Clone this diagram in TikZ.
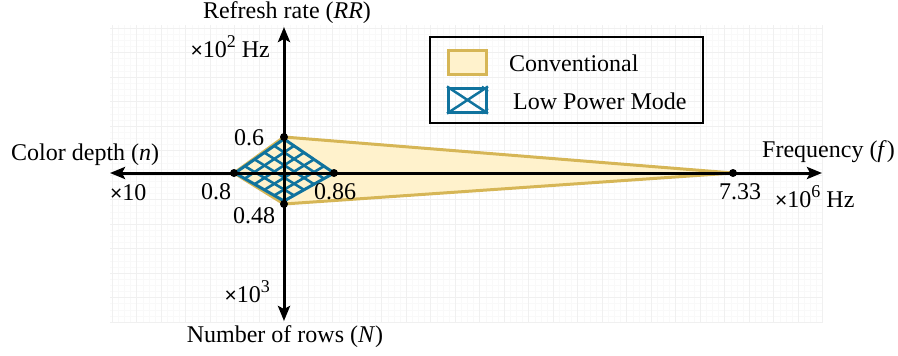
\documentclass[tikz,border=0pt]{standalone}
\usepackage{fontspec}
\setmainfont{Liberation Serif}
\newfontfamily\timesfont{Liberation Sans}
\usepackage{tikz}
\usetikzlibrary{arrows.meta}
\usetikzlibrary{calc}
\usetikzlibrary{backgrounds}
\definecolor{convfill}{HTML}{FFF2CC}
\definecolor{convline}{HTML}{D6B656}
\definecolor{lpmline}{HTML}{10739E}
\definecolor{gridmajor}{HTML}{F0F0F0}
\definecolor{gridminor}{HTML}{F9F9F9}
\newcommand\lblsize{\fontsize{24}{28}\selectfont}
\newcommand\tms{{\timesfont\fontsize{21}{24}\selectfont ×}}
\newcommand\sups[1]{\raisebox{0.42em}{\fontsize{18}{20}\selectfont #1}}

\begin{document}
\begin{tikzpicture}[x=1pt,y=-1pt,
        axis/.style={line width=3pt,-{Stealth[length=15pt,width=12pt,inset=3pt]}},
        dot/.style={circle,fill=black,inner sep=0pt,minimum size=8pt},
        lbl/.style={font=\lblsize,inner sep=0pt}]
        \useasboundingbox (0,0) rectangle (898,356);
        % grid
        \foreach \k in {0,...,116}
            \draw[gridminor,line width=0.5pt] ({822.7-\k*6.125},25) -- ({822.7-\k*6.125},322);
        \foreach \k in {0,...,48}
            \draw[gridminor,line width=0.5pt] (110,{322-\k*6.125}) -- (823,{322-\k*6.125});
        \foreach \k in {0,...,29}
            \draw[gridmajor,line width=0.6pt] ({822.7-\k*24.5},25) -- ({822.7-\k*24.5},322);
        \foreach \k in {0,...,12}
            \draw[gridmajor,line width=0.6pt] (110,{322-\k*24.5}) -- (823,{322-\k*24.5});

        \coordinate (o) at (284,173);
        \coordinate (xl) at (110,173);
        \coordinate (xr) at (822,173);
        \coordinate (yt) at (284,27);
        \coordinate (yb) at (284,321);

        \coordinate (rr) at (284,137);
        \coordinate (nr) at (284,204);
        \coordinate (cd) at (234,173);
        \coordinate (fq) at (733,173);

        % conventional
        \path[fill=convfill,draw=convline,line width=3pt,line join=round]
            (rr) -- (fq) -- (nr) -- (cd) -- cycle;

        % low power mode
        \coordinate (L) at (235,173);
        \coordinate (T) at (284,139);
        \coordinate (R) at (334,173);
        \coordinate (B) at (284,201);
        \foreach \t in {0.2,0.4,0.6,0.8} {
            \draw[lpmline,line width=2.6pt] ($(L)!\t!(B)$) -- ($(T)!\t!(R)$);
            \draw[lpmline,line width=2.6pt] ($(L)!\t!(T)$) -- ($(B)!\t!(R)$);
        }
        \draw[lpmline,line width=3pt,line join=round] (L) -- (T) -- (R) -- (B) -- cycle;

        % axes
        \draw[axis] (o) -- (xl);
        \draw[axis] (o) -- (xr);
        \draw[axis] (o) -- (yt);
        \draw[axis] (o) -- (yb);

        \node[dot] (p06) at (rr) {};
        \node[dot] (p048) at (nr) {};
        \node[dot] (p08) at (cd) {};
        \node[dot] (p086) at (R) {};
        \node[dot] (p733) at (fq) {};

        % labels
        \node[lbl] (rrlab) at (287,13) {Refresh rate (\textit{RR})};
        \node[lbl,anchor=east] (rrunit) at (270,47) {\tms10\sups{2} Hz};
        \node[lbl,anchor=west] (cdlab) at (11,155) {Color depth (\textit{n})};
        \node[lbl,anchor=west] (cdunit) at (110,193) {\tms10};
        \node[lbl,anchor=west] (fqlab) at (762,152) {Frequency (\textit{f})};
        \node[lbl,anchor=west] (fqunit) at (775,197) {\tms10\sups{6} Hz};
        \node[lbl,anchor=east] (nrunit) at (270,292) {\tms10\sups{3}};
        \node[lbl] (nrlab) at (285,337) {Number of rows (\textit{N})};
        \node[lbl] (v06) at (249,138) {0.6};
        \node[lbl] (v08) at (216,192) {0.8};
        \node[lbl] (v086) at (335,192) {0.86};
        \node[lbl] (v048) at (254,216) {0.48};
        \node[lbl] (v733) at (740,192) {7.33};

        % legend
        \node[draw,line width=2pt,minimum width=273pt,minimum height=86pt] (legend) at (566.5,80) {};
        \node[draw=convline,fill=convfill,line width=3pt,minimum width=38pt,minimum height=24pt] (swconv) at (467.5,62) {};
        \node[draw=lpmline,line width=3pt,minimum width=38pt,minimum height=24pt] (swlpm) at (467.5,100) {};
        \draw[lpmline,line width=2.5pt] (swlpm.north west) -- (swlpm.south east);
        \draw[lpmline,line width=2.5pt] (swlpm.south west) -- (swlpm.north east);
        \draw[lpmline,line width=2pt] ($(swlpm.north east)+(-6,0)$) -- ($(swlpm.north east)+(0,5)$);
        \draw[lpmline,line width=2pt] ($(swlpm.south east)+(-6,0)$) -- ($(swlpm.south east)+(0,-5)$);
        \node[lbl,anchor=west] (convlab) at (509,63) {Conventional};
        \node[lbl,anchor=west] (lpmlab) at (513,101) {Low Power Mode};
    \end{tikzpicture}
\end{document}
